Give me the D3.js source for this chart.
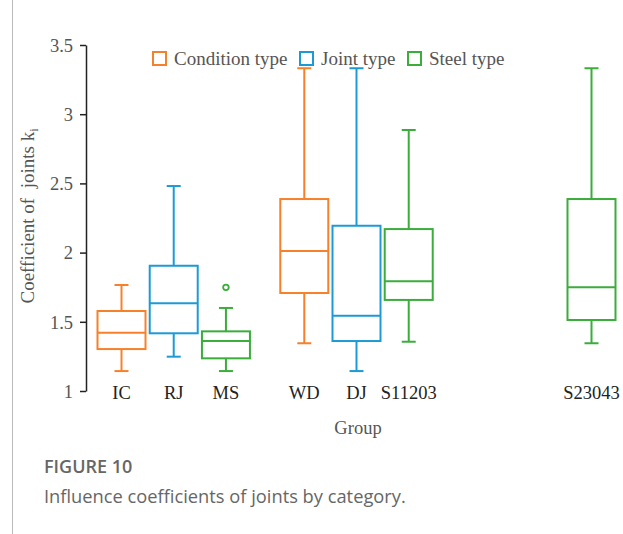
<!DOCTYPE html>
<html>
<head>
<meta charset="utf-8">
<script src="https://cdn.jsdelivr.net/npm/d3@7"></script>
<style>
  body { margin: 0; background: #fff; }
  svg { display: block; }
</style>
</head>
<body>
<div id="chart"></div>
<script>
// groups and their box statistics
var groups = ["IC", "RJ", "MS", "WD", "DJ", "S11203", "S23043"];
var groupPos = [1, 2, 3, 4.5, 5.5, 6.5, 10];
var groupType = ["Condition type", "Joint type", "Steel type", "Condition type", "Joint type", "Steel type", "Steel type"];
var whiskerLow = [1.144, 1.248, 1.144, 1.345, 1.144, 1.356, 1.345];
var q1 = [1.303, 1.417, 1.236, 1.708, 1.361, 1.658, 1.513];
var median = [1.421, 1.634, 1.361, 2.012, 1.544, 1.793, 1.749];
var q3 = [1.578, 1.905, 1.431, 2.387, 2.194, 2.170, 2.387];
var whiskerHigh = [1.766, 2.481, 1.600, 3.332, 3.332, 2.886, 3.332];
var outliers = [[], [], [1.749], [], [], [], []];

var types = ["Condition type", "Joint type", "Steel type"];
var typeColors = ["#f7802a", "#1c9ad6", "#3aad3a"];
var yTicks = [1, 1.5, 2, 2.5, 3, 3.5];

var W = 623, H = 534;
var serif = "'Liberation Serif', 'Times New Roman', serif";
var sans = "'Open Sans', 'Noto Sans', sans-serif";

var svg = d3.select("#chart")
  .append("svg")
  .attr("width", W)
  .attr("height", H);

// left grey rule of the page
svg.append("line")
  .attr("x1", 12.5).attr("x2", 12.5)
  .attr("y1", 0).attr("y2", H)
  .attr("stroke", "#bbb")
  .attr("stroke-width", 1);

var x = d3.scaleLinear().domain([1, 10]).range([121.5, 591.5]);
var y = d3.scaleLinear().domain([1, 3.5]).range([391, 45]);
var color = d3.scaleOrdinal().domain(types).range(typeColors);

var boxW = 48, capW = 14;

// Y axis
var yAxis = svg.append("g")
  .attr("transform", "translate(86,0)")
  .call(d3.axisLeft(y).tickValues(yTicks).tickSize(6).tickSizeOuter(0)
    .tickFormat(function (d) { return d; }))
  .attr("font-family", serif)
  .attr("font-size", 18.5);
yAxis.select(".domain").attr("stroke", "#222").attr("stroke-width", 1.5);
yAxis.selectAll(".tick line").attr("stroke", "#222").attr("stroke-width", 1.5);
yAxis.selectAll(".tick text")
  .attr("x", -13)
  .attr("dy", "0.34em")
  .attr("fill", "#555")
  .style("font-family", serif)
  .style("font-size", "18.5px");

// Y axis title
svg.append("text")
  .attr("transform", "translate(34,216) rotate(-90)")
  .attr("text-anchor", "middle")
  .attr("fill", "#555")
  .style("font-family", serif)
  .style("font-size", "19px")
  .style("white-space", "pre")
  .text("Coefficient of  joints k")
  .append("tspan")
  .attr("dy", 4)
  .style("font-size", "12px")
  .text("i");

// boxes
var box = svg.append("g").selectAll("g")
  .data(groups)
  .enter().append("g")
  .attr("fill", "none")
  .attr("stroke-width", 2)
  .attr("stroke", function (d, i) { return color(groupType[i]); });

box.append("line")
  .attr("x1", function (d, i) { return x(groupPos[i]); })
  .attr("x2", function (d, i) { return x(groupPos[i]); })
  .attr("y1", function (d, i) { return y(whiskerLow[i]); })
  .attr("y2", function (d, i) { return y(q1[i]); });
box.append("line")
  .attr("x1", function (d, i) { return x(groupPos[i]); })
  .attr("x2", function (d, i) { return x(groupPos[i]); })
  .attr("y1", function (d, i) { return y(q3[i]); })
  .attr("y2", function (d, i) { return y(whiskerHigh[i]); });
box.append("line")
  .attr("x1", function (d, i) { return x(groupPos[i]) - capW / 2; })
  .attr("x2", function (d, i) { return x(groupPos[i]) + capW / 2; })
  .attr("y1", function (d, i) { return y(whiskerLow[i]); })
  .attr("y2", function (d, i) { return y(whiskerLow[i]); });
box.append("line")
  .attr("x1", function (d, i) { return x(groupPos[i]) - capW / 2; })
  .attr("x2", function (d, i) { return x(groupPos[i]) + capW / 2; })
  .attr("y1", function (d, i) { return y(whiskerHigh[i]); })
  .attr("y2", function (d, i) { return y(whiskerHigh[i]); });
box.append("rect")
  .attr("x", function (d, i) { return x(groupPos[i]) - boxW / 2; })
  .attr("width", boxW)
  .attr("y", function (d, i) { return y(q3[i]); })
  .attr("height", function (d, i) { return y(q1[i]) - y(q3[i]); });
box.append("line")
  .attr("x1", function (d, i) { return x(groupPos[i]) - boxW / 2; })
  .attr("x2", function (d, i) { return x(groupPos[i]) + boxW / 2; })
  .attr("y1", function (d, i) { return y(median[i]); })
  .attr("y2", function (d, i) { return y(median[i]); });
box.selectAll("circle")
  .data(function (d, i) { return outliers[i].map(function (v) { return { v: v, p: groupPos[i] }; }); })
  .enter().append("circle")
  .attr("cx", function (o) { return x(o.p); })
  .attr("cy", function (o) { return y(o.v); })
  .attr("r", 2.8)
  .attr("stroke-width", 1.8);

// group labels
svg.append("g").selectAll("text")
  .data(groups)
  .enter().append("text")
  .attr("x", function (d, i) { return x(groupPos[i]); })
  .attr("y", 399)
  .attr("text-anchor", "middle")
  .attr("fill", "#222")
  .style("font-family", serif)
  .style("font-size", "18.5px")
  .text(function (d) { return d; });

svg.append("text")
  .attr("x", 358)
  .attr("y", 434)
  .attr("text-anchor", "middle")
  .attr("fill", "#555")
  .style("font-family", serif)
  .style("font-size", "18.5px")
  .text("Group");

// legend
var legendX = [152, 299, 407];
var legend = svg.append("g").selectAll("g")
  .data(types)
  .enter().append("g")
  .attr("transform", function (d, i) { return "translate(" + legendX[i] + ",51)"; });
legend.append("rect")
  .attr("x", 1).attr("y", 1)
  .attr("width", 13).attr("height", 13)
  .attr("fill", "none")
  .attr("stroke-width", 2)
  .attr("stroke", function (d) { return color(d); });
legend.append("text")
  .attr("x", 22)
  .attr("y", 13.5)
  .attr("fill", "#555")
  .style("font-family", serif)
  .style("font-size", "19px")
  .text(function (d) { return d; });

// caption
svg.append("text")
  .attr("x", 44).attr("y", 473)
  .attr("fill", "#666")
  .style("font-family", sans)
  .style("font-size", "18px")
  .style("font-weight", "600")
  .text("FIGURE 10");
svg.append("text")
  .attr("x", 44).attr("y", 503)
  .attr("fill", "#666")
  .style("font-family", sans)
  .style("font-size", "18.3px")
  .text("Influence coefficients of joints by category.");
</script>
</body>
</html>
